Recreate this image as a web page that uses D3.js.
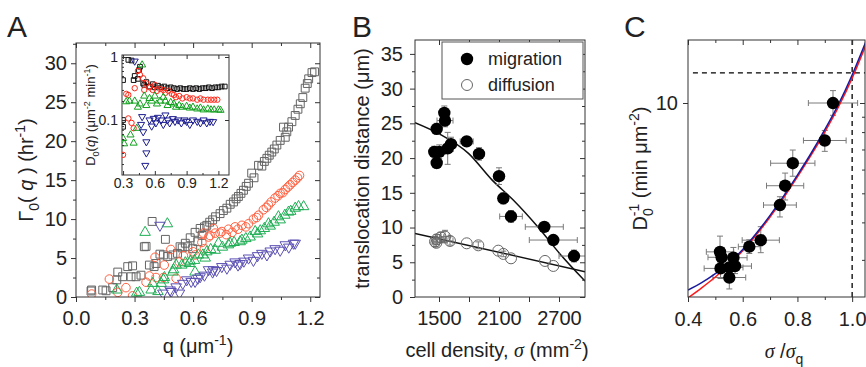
<!DOCTYPE html>
<html>
<head>
<meta charset="utf-8">
<script src="https://cdn.jsdelivr.net/npm/d3@7"></script>
<style>
  body { margin: 0; background: #fff; }
  svg { display: block; }
</style>
</head>
<body>
<svg id="fig" width="866" height="367"></svg>
<script>
// ---- panel A main: [q, Gamma0] ----
const aSquares = [[0.077,0.77],[0.08,0.9],[0.137,0.9],[0.154,0.8],[0.188,1.2],[0.209,2.2],[0.214,3.2],[0.239,2.6],[0.265,3.9],[0.282,2.6],[0.29,4.0],[0.308,2.6],[0.333,2.8],[0.35,6.45],[0.359,6.5],[0.376,4.1],[0.39,9.7],[0.40,3.9],[0.41,4.3],[0.43,5.5],[0.448,5.4],[0.458,7.4],[0.47,5.2],[0.496,5.4],[0.52,5.6],[0.533,6.45],[0.544,6.3],[0.56,6.9],[0.573,6.45],[0.585,7.6],[0.598,6.2],[0.61,8.3],[0.624,7.1],[0.636,8.8],[0.646,7.9],[0.658,9.0],[0.67,9.2],[0.685,9.6],[0.70,9.9],[0.715,10.3],[0.738,10.7],[0.755,11.1],[0.773,11.4],[0.79,11.9],[0.807,12.2],[0.82,12.6],[0.832,12.9],[0.845,13.3],[0.858,13.7],[0.872,14.2],[0.884,14.6],[0.9,15.9],[0.912,15.3],[0.935,16.9],[0.952,16.8],[0.965,17.4],[0.978,17.8],[0.99,18.2],[1.003,18.6],[1.016,19.0],[1.029,19.5],[1.046,20.1],[1.063,21.8],[1.072,20.5],[1.08,21.2],[1.089,21.8],[1.106,22.5],[1.123,23.3],[1.137,24.1],[1.149,24.8],[1.162,25.6],[1.174,26.8],[1.185,27.4],[1.192,28.0],[1.209,28.8],[1.222,28.9]];
const aCircles = [[0.08,0.38],[0.171,2.3],[0.214,0.6],[0.256,1.2],[0.29,0.15],[0.359,1.9],[0.376,2.7],[0.405,5.1],[0.41,2.5],[0.448,2.5],[0.452,4.1],[0.486,6.1],[0.513,2.4],[0.53,4.5],[0.55,5.3],[0.6,5.8],[0.61,5.4],[0.645,7.0],[0.653,8.2],[0.658,6.2],[0.679,7.7],[0.687,7.9],[0.704,8.8],[0.713,8.2],[0.738,8.2],[0.747,8.4],[0.77,8.0],[0.781,8.7],[0.80,8.3],[0.815,9.0],[0.83,8.7],[0.85,9.2],[0.87,9.0],[0.884,9.4],[0.909,10.0],[0.925,10.2],[0.935,10.5],[0.96,11.2],[0.975,11.5],[0.986,11.8],[1.0,12.2],[1.02,12.7],[1.035,13.0],[1.046,13.3],[1.06,13.4],[1.072,13.8],[1.085,14.1],[1.097,14.4],[1.11,14.7],[1.123,15.0],[1.135,15.3],[1.145,15.6]];
const aUpTri = [[0.209,0.9],[0.311,0.5],[0.325,0.6],[0.354,8.3],[0.385,0.9],[0.393,1.75],[0.42,0.7],[0.436,1.75],[0.448,2.2],[0.453,2.5],[0.468,9.4],[0.496,3.2],[0.5,3.5],[0.513,4.1],[0.542,4.1],[0.56,4.4],[0.581,4.3],[0.585,4.6],[0.607,4.7],[0.61,3.2],[0.627,5.4],[0.65,5.4],[0.662,5.0],[0.67,5.8],[0.69,6.1],[0.713,6.0],[0.73,6.9],[0.75,6.4],[0.781,6.7],[0.79,6.9],[0.81,7.0],[0.841,7.1],[0.85,7.3],[0.87,7.5],[0.892,7.7],[0.918,8.4],[0.93,8.1],[0.944,8.5],[0.965,8.8],[0.986,9.4],[0.995,9.1],[1.015,9.6],[1.037,10.3],[1.046,9.9],[1.07,10.5],[1.089,10.9],[1.1,11.0],[1.123,11.4],[1.14,11.6],[1.166,11.6]];
const aDownTri = [[0.43,9.2],[0.445,0.5],[0.482,0.9],[0.487,0.7],[0.513,1.3],[0.53,0.5],[0.547,1.75],[0.567,2.2],[0.59,2.0],[0.61,2.0],[0.624,2.4],[0.636,2.6],[0.658,2.8],[0.679,3.5],[0.70,3.2],[0.704,3.5],[0.72,3.4],[0.747,3.9],[0.773,3.7],[0.79,4.2],[0.815,4.5],[0.83,4.1],[0.841,4.3],[0.86,4.6],[0.884,5.0],[0.909,4.7],[0.93,5.3],[0.952,5.6],[0.978,5.4],[0.995,5.9],[1.02,6.2],[1.046,6.0],[1.072,6.7],[1.09,6.4],[1.114,6.9],[1.123,6.9]];
const aXTicks = [0, 0.3, 0.6, 0.9, 1.2];
const aYTicks = [0, 5, 10, 15, 20, 25, 30];

// ---- panel A inset: [q, D0] ----
const inSquares = [[0.30,0.43],[0.30,0.1],[0.30,0.078],[0.35,0.9],[0.38,0.88],[0.40,0.43],[0.41,0.5],[0.44,0.45],[0.45,0.62],[0.46,0.7],[0.49,0.38],[0.50,0.36],[0.52,0.40],[0.55,0.34],[0.58,0.37],[0.60,0.33],[0.63,0.35],[0.66,0.33],[0.69,0.34],[0.72,0.32],[0.75,0.33],[0.78,0.32],[0.81,0.31],[0.84,0.32],[0.87,0.31],[0.9,0.31],[0.93,0.32],[0.96,0.31],[0.99,0.32],[1.02,0.31],[1.05,0.32],[1.08,0.32],[1.11,0.33],[1.14,0.32],[1.17,0.33],[1.2,0.33],[1.23,0.34],[1.26,0.34]];
const inCircles = [[0.30,0.028],[0.33,0.26],[0.35,0.25],[0.35,0.106],[0.38,0.09],[0.40,0.074],[0.41,0.32],[0.44,0.6],[0.46,0.52],[0.49,0.46],[0.50,0.3],[0.52,0.38],[0.55,0.33],[0.58,0.3],[0.6,0.36],[0.62,0.29],[0.65,0.31],[0.68,0.3],[0.7,0.27],[0.73,0.29],[0.76,0.26],[0.78,0.25],[0.8,0.23],[0.83,0.24],[0.86,0.22],[0.9,0.23],[0.93,0.22],[0.96,0.22],[1.0,0.21],[1.03,0.22],[1.06,0.21],[1.1,0.21],[1.13,0.21],[1.16,0.21],[1.19,0.21]];
const inUpTri = [[0.30,0.051],[0.31,0.042],[0.33,0.195],[0.36,0.2],[0.37,0.058],[0.40,0.043],[0.41,0.2],[0.43,0.074],[0.44,0.16],[0.46,0.18],[0.48,0.75],[0.50,0.24],[0.52,0.17],[0.55,0.22],[0.57,0.2],[0.6,0.24],[0.62,0.18],[0.65,0.2],[0.68,0.23],[0.7,0.2],[0.72,0.17],[0.75,0.19],[0.78,0.18],[0.8,0.16],[0.83,0.17],[0.86,0.16],[0.9,0.165],[0.93,0.155],[0.96,0.16],[1.0,0.15],[1.03,0.155],[1.06,0.145],[1.1,0.15],[1.13,0.145],[1.16,0.145],[1.2,0.145],[1.22,0.143]];
const inDownTri = [[0.41,0.86],[0.47,0.085],[0.48,0.113],[0.49,0.065],[0.52,0.045],[0.52,0.03],[0.51,0.019],[0.55,0.1],[0.57,0.08],[0.59,0.106],[0.61,0.09],[0.63,0.11],[0.66,0.1],[0.68,0.085],[0.7,0.12],[0.72,0.1],[0.74,0.09],[0.77,0.105],[0.79,0.095],[0.82,0.1],[0.85,0.09],[0.88,0.1],[0.9,0.095],[0.93,0.085],[0.96,0.1],[1.0,0.095],[1.03,0.09],[1.06,0.1],[1.09,0.09],[1.12,0.095],[1.15,0.094]];
const inXTicks = [0.3, 0.6, 0.9, 1.2];
const inYTicks = [0.1, 1];

// ---- panel B: [density, distance, xerr, yerr] ----
const bMigration = [[1453,20.9,25,0.8],[1477,24.2,30,0.8],[1477,19.3,20,0.8],[1503,20.9,60,1.0],[1553,26.5,40,1.0],[1560,25.4,80,0.9],[1587,21.4,30,2.3],[1620,22.0,40,1.0],[1777,22.4,65,0.6],[1900,20.6,50,0.9],[2100,17.4,40,1.2],[2143,14.2,35,0.8],[2220,11.6,113,0.85],[2553,10.1,190,0.5],[2643,8.2,240,0.5],[2850,5.9,150,0.85]];
const bDiffusion = [[1460,7.97,25,0.7],[1473,7.8,30,0.6],[1477,8.3,30,0.7],[1517,8.6,30,0.7],[1560,8.7,40,0.9],[1610,8.07,30,0.6],[1777,7.73,0,0],[1893,7.44,0,0.5],[2093,6.67,0,0],[2143,6.2,0,0.4],[2220,5.57,0,0],[2560,5.19,0,0],[2643,4.47,0,0]];
const bMigFit = [[1260,25.1],[1500,23.5],[1800,20.6],[2027,16.9],[2240,14.0],[2500,9.9],[2710,6.2],[2960,2.3]];
const bDifFit = [[1260,9.15],[2960,3.65]];
const bXTicks = [1500, 2100, 2700];
const bYTicks = [0, 5, 10, 15, 20, 25, 30, 35];
const bLegend = ["migration", "diffusion"];

// ---- panel C: [sigma/sigma_q, 1/D0, xerr, ylow, yhigh] ----
const cPoints = [[0.93,10.0,0.09,9.1,11.0],[0.90,7.5,0.078,6.9,8.1],[0.783,6.3,0.081,5.7,6.97],[0.755,5.3,0.068,4.75,5.84],[0.736,4.57,0.06,4.17,4.87],[0.666,3.49,0.068,3.17,3.87],[0.624,3.32,0.04,3.15,3.5],[0.517,3.19,0.05,2.95,3.6],[0.523,3.06,0.05,2.85,3.3],[0.566,3.05,0.05,2.85,3.3],[0.572,2.86,0.06,2.7,3.05],[0.519,2.81,0.06,2.6,3.0],[0.551,2.83,0.05,2.6,3.05],[0.551,2.62,0.06,2.4,2.85]];
const cFitX = [0.40,0.45,0.50,0.55,0.60,0.65,0.70,0.75,0.80,0.85,0.90,0.95,1.00,1.05];
const cBlueY = [2.38,2.52,2.70,2.93,3.25,3.68,4.22,4.90,5.75,6.80,8.15,9.90,12.4,16.0];
const cRedY = [2.24,2.42,2.63,2.89,3.22,3.64,4.17,4.84,5.67,6.70,8.00,9.70,12.1,15.6];
const cDashY = 12.6;
const cDashX = 1.0;
const cXTicks = [0.4, 0.6, 0.8, 1.0];

const FONT = "Arial, 'Liberation Sans', Helvetica, sans-serif";
const SERIF = "'Liberation Serif', 'DejaVu Serif', serif";
const INK = "#222";

const svg = d3.select("#fig");
svg.append("rect").attr("width", 866).attr("height", 367).attr("fill", "#fff");

function axis(scale, orient, tx, ty, values, size, fmt, fs, pad) {
  const gen = {b: d3.axisBottom, l: d3.axisLeft, t: d3.axisTop, r: d3.axisRight}[orient](scale)
      .tickValues(values).tickSizeInner(size).tickSizeOuter(0).tickPadding(pad || 4)
      .tickFormat(fmt || (() => ""));
  const a = svg.append("g").attr("transform", `translate(${tx},${ty})`).call(gen);
  a.select(".domain").remove();
  a.selectAll("line").attr("stroke", "#333");
  a.selectAll("text").attr("font-size", fs || 20).attr("font-family", FONT).attr("fill", INK);
  return a;
}

function frame(x0, y0, x1, y1, fill) {
  svg.append("rect").attr("x", x0).attr("y", y0).attr("width", x1 - x0).attr("height", y1 - y0)
     .attr("fill", fill || "none").attr("stroke", "#333").attr("stroke-width", 1);
}

// writes mixed text: parts = [text, kind, dx]
function rich(t, parts, fs) {
  let cur = 0;
  parts.forEach(([s, k, dx]) => {
    let off = 0, size = fs;
    if (k === "sub") { off = 0.3 * fs; size = 0.7 * fs; }
    if (k === "sup") { off = -0.42 * fs; size = 0.7 * fs; }
    const ts = t.append("tspan").text(s).attr("font-size", size).attr("dy", off - cur);
    if (dx) ts.attr("dx", dx);
    if (k === "i") ts.attr("font-style", "italic");
    if (k === "sig") ts.attr("font-style", "italic").attr("font-family", SERIF);
    cur = off;
  });
}

function label(x, y, rot, parts, fs, anchor) {
  const t = svg.append("text").attr("font-family", FONT).attr("font-size", fs).attr("fill", INK)
     .attr("text-anchor", anchor || "middle")
     .attr("transform", `translate(${x},${y}) rotate(${rot})`);
  rich(t, parts, fs);
  return t;
}

function clip(id, x0, y0, x1, y1) {
  svg.append("clipPath").attr("id", id).append("rect")
     .attr("x", x0).attr("y", y0).attr("width", x1 - x0).attr("height", y1 - y0);
}

function markers(g, data, x, y, kind, size, color) {
  if (kind === "circle") {
    g.selectAll(null).data(data).join("circle")
      .attr("cx", d => x(d[0])).attr("cy", d => y(d[1])).attr("r", size)
      .attr("fill", "none").attr("stroke", color).attr("stroke-width", 1);
  } else {
    const type = kind === "square" ? d3.symbolSquare : d3.symbolTriangle;
    const rot = kind === "down" ? 180 : 0;
    g.selectAll(null).data(data).join("path")
      .attr("d", d3.symbol().type(type).size(size))
      .attr("transform", d => `translate(${x(d[0])},${y(d[1])}) rotate(${rot})`)
      .attr("fill", "none").attr("stroke", color).attr("stroke-width", 1);
  }
}

// ================= Panel A =================
const ax = d3.scaleLinear().domain([0, 1.25]).range([76, 320]);
const ay = d3.scaleLinear().domain([0, 32.6]).range([297, 43]);
const aXMinor = [0.15, 0.45, 0.75, 1.05];
const aYMinor = d3.range(2.5, 32.6, 5);

clip("clipA", 76, 43, 320, 297);
const gA = svg.append("g").attr("clip-path", "url(#clipA)");
markers(gA, aSquares, ax, ay, "square", 62, "#646464");
markers(gA, aCircles, ax, ay, "circle", 4.3, "#ff6040");
markers(gA, aUpTri, ax, ay, "up", 48, "#1fae55");
markers(gA, aDownTri, ax, ay, "down", 48, "#5b50b3");

frame(76, 43, 320, 297);
axis(ax, "b", 0, 297, aXTicks, 5, d3.format(".1f"), 20, 9);
axis(ax, "b", 0, 297, aXMinor, 3);
axis(ay, "l", 76, 0, aYTicks, 5, d3.format("d"), 20, 4);
axis(ay, "l", 76, 0, aYMinor, 3);
axis(ax, "t", 0, 43, aXTicks, -5);
axis(ax, "t", 0, 43, aXMinor, -3);
axis(ay, "r", 320, 0, aYTicks, -5);
axis(ay, "r", 320, 0, aYMinor, -3);

label(33, 170, -90, [["Γ", "n"], ["0", "sub"], ["( ", "n"], ["q", "i"], [" ) (hr", "n"], ["-1", "sup"], [")", "n"]], 20);
label(198, 353, 0, [["q (μm", "n"], ["-1", "sup"], [")", "n"]], 20);
svg.append("text").attr("x", 7).attr("y", 37).attr("font-family", FONT).attr("font-size", 30)
   .attr("fill", INK).text("A");

// inset
const ix = d3.scaleLinear().domain([0.29, 1.30]).range([122, 229]);
const iy = d3.scaleLog().domain([0.0134, 1.076]).range([175, 55]);
frame(122, 55, 229, 175, "#fff");
clip("clipIn", 122, 55, 229, 175);
const gIn = svg.append("g").attr("clip-path", "url(#clipIn)");
markers(gIn, inSquares, ix, iy, "square", 22, "#111");
markers(gIn, inCircles, ix, iy, "circle", 2.7, "#ff2a1a");
markers(gIn, inUpTri, ix, iy, "up", 22, "#12a01e");
markers(gIn, inDownTri, ix, iy, "down", 22, "#1c1c8f");
axis(ix, "b", 0, 175, inXTicks, -4, d3.format(".1f"), 14, 3);
axis(ix, "b", 0, 175, [0.45, 0.75, 1.05], -2);
axis(iy, "l", 122, 0, inYTicks, -4, d => d === 1 ? "1" : "0.1", 14, 4);
axis(iy, "l", 122, 0, [0.02, 0.03, 0.04, 0.05, 0.06, 0.07, 0.08, 0.09, 0.2, 0.3, 0.4, 0.5, 0.6, 0.7, 0.8, 0.9], -2);
axis(ix, "t", 0, 55, inXTicks, -4);
axis(iy, "r", 229, 0, inYTicks, -4);
label(95, 115, -90, [["D", "n"], ["0", "sub"], ["(", "n"], ["q", "i"], [") (μm", "n"], ["-2", "sup"], [" min", "n"], ["-1", "sup"], [")", "n"]], 13);

// ================= Panel B =================
const bx = d3.scaleLinear().domain([1260, 2960]).range([415, 585]);
const by = d3.scaleLinear().domain([0, 37]).range([297, 40]);
const bYMinor = d3.range(2.5, 37, 5);
const bXMinor = [1800, 2400];

clip("clipB", 415, 40, 585, 297);
const gB = svg.append("g").attr("clip-path", "url(#clipB)");
const line = (sx, sy) => d3.line().x(d => sx(d[0])).y(d => sy(d[1])).curve(d3.curveMonotoneX);
gB.append("path").datum(bDifFit).attr("d", line(bx, by)).attr("fill", "none")
  .attr("stroke", "#111").attr("stroke-width", 1.5);
gB.append("path").datum(bMigFit).attr("d", line(bx, by)).attr("fill", "none")
  .attr("stroke", "#111").attr("stroke-width", 1.5);

function errorBars(g, data, sx, sy, lo, hi, xl, xh) {
  const e = g.append("g").attr("stroke", "#7a7a7a").attr("stroke-width", 1);
  data.forEach(d => {
    const cx = sx(d[0]), cy = sy(d[1]);
    const y0 = sy(lo(d)), y1 = sy(hi(d)), x0 = sx(xl(d)), x1 = sx(xh(d));
    if (Math.abs(y1 - y0) > 1) {
      e.append("line").attr("x1", cx).attr("x2", cx).attr("y1", y0).attr("y2", y1);
      e.append("line").attr("x1", cx - 3).attr("x2", cx + 3).attr("y1", y0).attr("y2", y0);
      e.append("line").attr("x1", cx - 3).attr("x2", cx + 3).attr("y1", y1).attr("y2", y1);
    }
    if (Math.abs(x1 - x0) > 1) {
      e.append("line").attr("x1", x0).attr("x2", x1).attr("y1", cy).attr("y2", cy);
      e.append("line").attr("x1", x0).attr("x2", x0).attr("y1", cy - 3).attr("y2", cy + 3);
      e.append("line").attr("x1", x1).attr("x2", x1).attr("y1", cy - 3).attr("y2", cy + 3);
    }
  });
}
errorBars(gB, bDiffusion, bx, by, d => d[1] - d[3], d => d[1] + d[3], d => d[0] - d[2], d => d[0] + d[2]);
errorBars(gB, bMigration, bx, by, d => d[1] - d[3], d => d[1] + d[3], d => d[0] - d[2], d => d[0] + d[2]);
gB.selectAll(null).data(bDiffusion).join("circle")
  .attr("cx", d => bx(d[0])).attr("cy", d => by(d[1])).attr("r", 5.5)
  .attr("fill", "none").attr("stroke", "#666").attr("stroke-width", 1);
gB.selectAll(null).data(bMigration).join("circle")
  .attr("cx", d => bx(d[0])).attr("cy", d => by(d[1])).attr("r", 6.2).attr("fill", "#000");

frame(415, 40, 585, 297);
axis(bx, "b", 0, 297, bXTicks, 5, d3.format("d"), 20, 9);
axis(bx, "b", 0, 297, bXMinor, 5);
axis(by, "l", 415, 0, bYTicks, 5, d3.format("d"), 20, 7);
axis(by, "l", 415, 0, bYMinor, 3);
axis(bx, "t", 0, 40, bXTicks.concat(bXMinor), -5);
axis(by, "r", 585, 0, bYTicks, -5);
axis(by, "r", 585, 0, bYMinor, -3);

// legend
svg.append("rect").attr("x", 442).attr("y", 42).attr("width", 141).attr("height", 57)
   .attr("fill", "#fff").attr("stroke", "#555");
svg.append("circle").attr("cx", 467).attr("cy", 59).attr("r", 6.2).attr("fill", "#000");
svg.append("circle").attr("cx", 467).attr("cy", 85).attr("r", 5.5).attr("fill", "none").attr("stroke", "#666");
bLegend.forEach((s, i) => svg.append("text").attr("x", 488).attr("y", 65 + i * 26)
   .attr("font-family", FONT).attr("font-size", 18).attr("fill", INK).text(s));

label(369, 168.5, -90, [["translocation distance (μm)", "n"]], 20);
label(497, 357, 0, [["cell density, ", "n"], ["σ", "sig"], [" (mm", "n"], ["-2", "sup"], [")", "n"]], 20);
svg.append("text").attr("x", 352).attr("y", 37).attr("font-family", FONT).attr("font-size", 30)
   .attr("fill", INK).text("B");

// ================= Panel C =================
const cx = d3.scaleLinear().domain([0.4, 1.047]).range([688, 865]);
const cy = d3.scaleLog().domain([2.256, 16.22]).range([297, 40]);
const cXMinor = [0.5, 0.7, 0.9];
const cYMinor = [3, 4, 5, 6, 7, 8, 9];

clip("clipC", 688, 40, 865, 297);
const gC = svg.append("g").attr("clip-path", "url(#clipC)");
gC.append("line").attr("x1", cx(0.418)).attr("x2", cx(1.047)).attr("y1", cy(cDashY)).attr("y2", cy(cDashY))
  .attr("stroke", "#000").attr("stroke-width", 1.3).attr("stroke-dasharray", "5,4");
gC.append("line").attr("x1", cx(cDashX)).attr("x2", cx(cDashX)).attr("y1", 40).attr("y2", 297)
  .attr("stroke", "#000").attr("stroke-width", 1.3).attr("stroke-dasharray", "5,4");
errorBars(gC, cPoints, cx, cy, d => d[3], d => d[4], d => d[0] - d[2], d => d[0] + d[2]);
gC.append("path").datum(cFitX.map((v, i) => [v, cRedY[i]])).attr("d", line(cx, cy))
  .attr("fill", "none").attr("stroke", "#ff1a1a").attr("stroke-width", 1.5);
gC.append("path").datum(cFitX.map((v, i) => [v, cBlueY[i]])).attr("d", line(cx, cy))
  .attr("fill", "none").attr("stroke", "#1a1aa0").attr("stroke-width", 1.5);
gC.selectAll(null).data(cPoints).join("circle")
  .attr("cx", d => cx(d[0])).attr("cy", d => cy(d[1])).attr("r", 6.2).attr("fill", "#000");

frame(688, 40, 865, 297);
axis(cx, "b", 0, 297, cXTicks, 5, d3.format(".1f"), 20, 10);
axis(cx, "b", 0, 297, cXMinor, 3);
axis(cy, "l", 688, 0, [10], 5, d3.format("d"), 20, 5);
axis(cx, "t", 0, 40, cXTicks, -5);
axis(cx, "t", 0, 40, cXMinor, -3);
axis(cy, "r", 865, 0, [10], -5);
axis(cy, "r", 865, 0, cYMinor, -3);

label(647, 168.5, -90, [["D", "n"], ["0", "sub"], ["-1", "sup", -8], [" (min μm", "n"], ["-2", "sup"], [")", "n"]], 20);
label(784, 358, 0, [["σ", "sig"], [" /", "n"], ["σ", "sig"], ["q", "sub"]], 20);
svg.append("text").attr("x", 624).attr("y", 37).attr("font-family", FONT).attr("font-size", 30)
   .attr("fill", INK).text("C");
</script>
</body>
</html>
